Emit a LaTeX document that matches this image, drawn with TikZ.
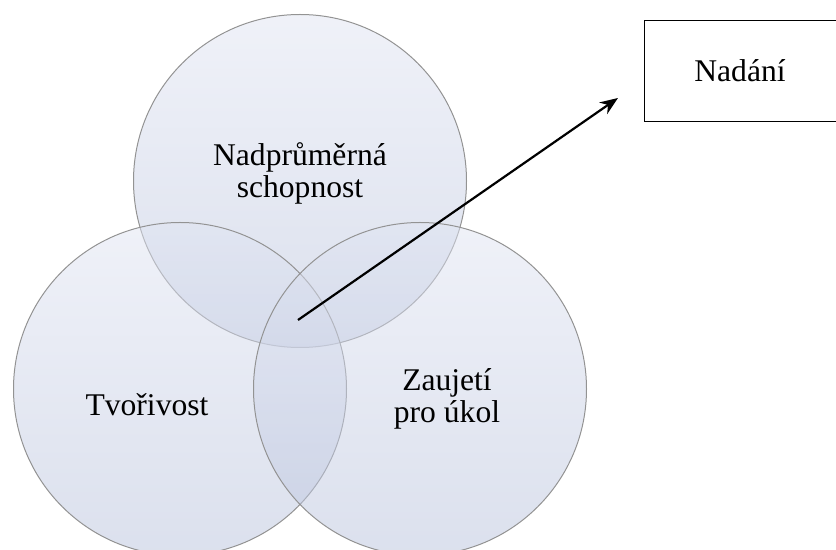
\documentclass[tikz,border=0pt]{standalone}
\usepackage{fontspec}
\setmainfont{Liberation Serif}
\usetikzlibrary{arrows.meta, positioning}
\definecolor{ringtop}{RGB}{224,228,242}
\definecolor{ringbot}{RGB}{184,194,220}

\begin{document}
\begin{tikzpicture}[
    x=0.5pt, y=-0.5pt,
    >={Stealth[length=9pt, width=7pt]},
    ring/.style={circle, minimum size=166.5pt, inner sep=0pt,
                 top color=ringtop, bottom color=ringbot,
                 fill opacity=0.5, draw=gray!85, draw opacity=1,
                 line width=0.5pt},
    label/.style={font=\fontsize{15.8}{15}\selectfont, align=center,
                  text opacity=1},
    box/.style={draw, line width=0.6pt, minimum width=110pt,
                minimum height=50.5pt, anchor=north west, inner sep=0pt}
  ]
  \useasboundingbox (0,0) rectangle (836,550);
  % the three circles
  \node[ring] (abil) at (300,181) {};
  \node[ring] (crea) at (180,389) {};
  \node[ring] (task) at (420,389) {};
  \node[label] at (300,173) {Nadprůměrná\\[1pt]schopnost};
  \node[label] at (147,405) {Tvořivost};
  \node[label] at (447,399) {Zaujetí\\[1pt]pro úkol};
  % result box
  \node[box] (gift) at (644,20) {};
  \node[label] at (740,71) {Nadání};
  \coordinate (core) at (298,320);
  \coordinate (tip) at (618,98);
  \draw[->, line width=1.1pt] (core) -- (tip);
\end{tikzpicture}
\end{document}
